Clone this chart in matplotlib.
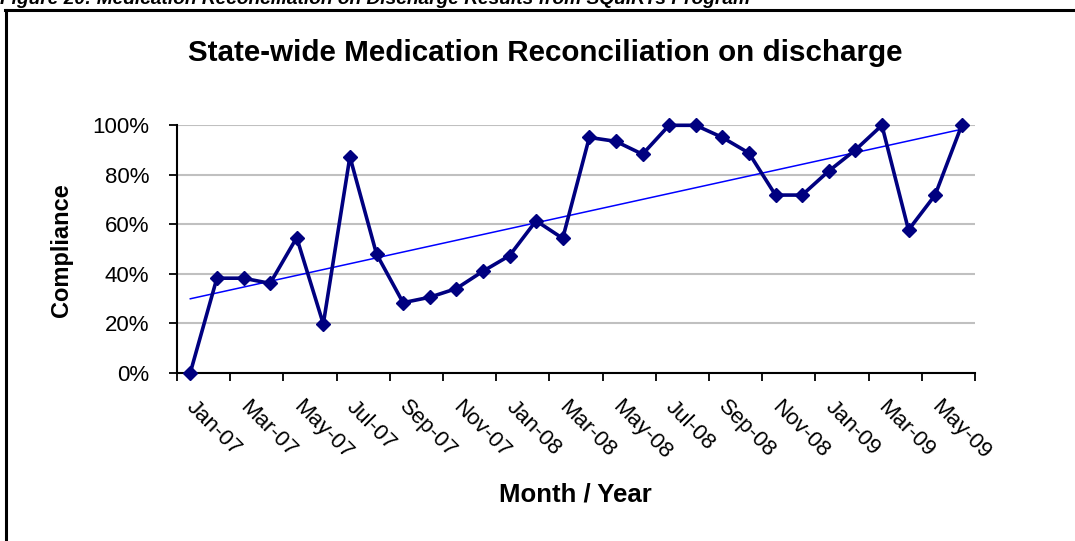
import numpy as np
import matplotlib
matplotlib.use("Agg")
import matplotlib.pyplot as plt
from matplotlib.lines import Line2D
from matplotlib.transforms import ScaledTranslation

plt.rcParams['font.family'] = ['Liberation Sans', 'DejaVu Sans']

# monthly compliance, Jan-07 .. Jun-09 (percent)
months = ['Jan-07', 'Feb-07', 'Mar-07', 'Apr-07', 'May-07', 'Jun-07', 'Jul-07', 'Aug-07',
          'Sep-07', 'Oct-07', 'Nov-07', 'Dec-07', 'Jan-08', 'Feb-08', 'Mar-08', 'Apr-08',
          'May-08', 'Jun-08', 'Jul-08', 'Aug-08', 'Sep-08', 'Oct-08', 'Nov-08', 'Dec-08',
          'Jan-09', 'Feb-09', 'Mar-09', 'Apr-09', 'May-09', 'Jun-09']
compliance = [0, 38.2, 38.2, 36.1, 54.6, 19.7, 87.3, 48.0, 28.3, 30.5,
              34.0, 41.0, 47.3, 61.4, 54.3, 95.1, 93.5, 88.3, 100, 100,
              95.1, 88.8, 71.8, 71.8, 81.5, 90.0, 100, 57.7, 71.8, 100]
yticks = [0, 20, 40, 60, 80, 100]

title = 'State-wide Medication Reconciliation on discharge'
caption = 'Figure 20: Medication Reconciliation on Discharge Results from SQuIRTs Program'

x = np.arange(len(months))
y = np.array(compliance) / 100.0

fig = plt.figure(figsize=(10.75, 5.41), dpi=100)
ax = fig.add_axes([177 / 1075, 1 - 372.7 / 541, (975 - 177) / 1075, (372.7 - 125.3) / 541])

# linear trend over the whole period
k, b = np.polyfit(x, y, 1)
ax.plot(x, k * x + b, color='#0000ff', lw=1.1, zorder=2)
ax.plot(x, y, color='#000080', lw=2.6, marker='D', ms=7, mec='#000080', zorder=3,
        clip_on=False)

ax.set_xlim(-0.5, len(months) - 0.5)
ax.set_ylim(0, 1)
ax.set_yticks(np.array(yticks) / 100.0)
ax.set_yticklabels([f'{v}%' for v in yticks], fontsize=16)
ax.yaxis.grid(True, color='#c0c0c0', lw=1.5)
ax.set_axisbelow(True)

ax.set_xticks(np.arange(-0.5, len(months), 2))
ax.set_xticklabels([])
ax.set_xticks(x[::2], minor=True)
ax.set_xticklabels(months[::2], minor=True, rotation=-45, ha='left', va='top',
                   rotation_mode='anchor', fontsize=16)
ax.tick_params(axis='x', which='minor', length=0, pad=17)
ax.tick_params(axis='both', which='major', length=6, width=1.3, direction='out')
ax.tick_params(axis='y', pad=14)

# nudge the slanted month labels to the right
shift = ScaledTranslation(7 / 100, 0, fig.dpi_scale_trans)
for lab in ax.get_xticklabels(minor=True):
    lab.set_transform(lab.get_transform() + shift)

for s in ['top', 'right']:
    ax.spines[s].set_visible(False)
for s in ['left', 'bottom']:
    ax.spines[s].set_linewidth(1.5)

fig.text(575 / 1075, 1 - 495 / 541, 'Month / Year', ha='center', va='center',
         fontsize=18.5, fontweight='bold')
fig.text(62 / 1075, 1 - 250 / 541, 'Compliance', ha='center', va='center',
         rotation=90, fontsize=17, fontweight='bold')
fig.text(545 / 1075, 1 - 53 / 541, title, ha='center', va='center',
         fontsize=21.3, fontweight='bold')

# caption above the frame, partly cut off at the top edge
fig.text(0, 1 - 4 / 541, caption, ha='left', va='baseline', fontsize=13.8,
         fontweight='bold', style='italic')

# frame around the chart
fig.add_artist(Line2D([5 / 1075, 1], [1 - 9.5 / 541] * 2, color='black', lw=2.2,
                      transform=fig.transFigure))
fig.add_artist(Line2D([6 / 1075] * 2, [0, 1 - 9.5 / 541], color='black', lw=2.2,
                      transform=fig.transFigure))

fig.savefig('out.png', dpi=100)
